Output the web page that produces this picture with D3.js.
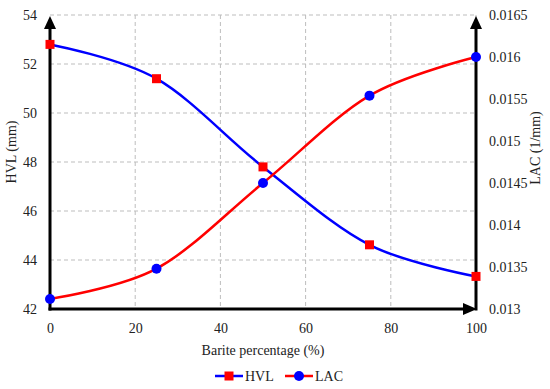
<!DOCTYPE html>
<html>
<head>
<meta charset="utf-8">
<script src="https://cdn.jsdelivr.net/npm/d3@7"></script>
<style>
  body { margin: 0; background: #fff; }
</style>
</head>
<body>
<div id="chart"></div>
<script>
(function(){
  'use strict';

  // data
  var barite = [0, 25, 50, 75, 100];
  var hvl = [52.8, 51.4, 47.8, 44.62, 43.33];
  var lac = [0.01312, 0.01348, 0.0145, 0.01554, 0.0160];

  var xTicks = [0, 20, 40, 60, 80, 100];
  var hvlTicks = [42, 44, 46, 48, 50, 52, 54];
  var lacTicks = [0.013, 0.0135, 0.014, 0.0145, 0.015, 0.0155, 0.016, 0.0165];

  var W = 550, H = 389,
      left = 50, right = 476, top = 15, bottom = 309;

  var svg = d3.select('#chart').append('svg')
    .attr('width', W)
    .attr('height', H);

  var x = d3.scaleLinear().domain([0, 100]).range([left, right]);
  var yL = d3.scaleLinear().domain([42, 54]).range([bottom, top]);
  var yR = d3.scaleLinear().domain([0.013, 0.0165]).range([bottom, top]);

  // grid
  var grid = svg.append('g');
  grid.selectAll('.hg')
    .data(hvlTicks.slice(1))
    .enter().append('line')
    .attr('x1', left).attr('x2', right)
    .attr('y1', function(d){ return yL(d); })
    .attr('y2', function(d){ return yL(d); })
    .style('stroke', '#bdbdbd').style('stroke-width', 1).style('stroke-dasharray', '4,3');
  grid.selectAll('.vg')
    .data(xTicks.slice(1))
    .enter().append('line')
    .attr('x1', function(d){ return x(d); })
    .attr('x2', function(d){ return x(d); })
    .attr('y1', top).attr('y2', bottom)
    .style('stroke', '#bdbdbd').style('stroke-width', 1).style('stroke-dasharray', '4,3');

  // axes (labels only, lines drawn separately with arrows)
  var xAxis = d3.axisBottom(x).tickValues(xTicks).tickSize(0).tickPadding(14);
  var yAxisL = d3.axisLeft(yL).tickValues(hvlTicks).tickSize(0).tickPadding(13);
  var yAxisR = d3.axisRight(yR).tickValues(lacTicks).tickSize(0).tickPadding(13)
    .tickFormat(function(d){ return String(+d.toFixed(5)); });

  [[xAxis, 'translate(0,' + bottom + ')'],
   [yAxisL, 'translate(' + left + ',0)'],
   [yAxisR, 'translate(' + right + ',0)']].forEach(function(a){
    var g = svg.append('g').attr('transform', a[1]).call(a[0]);
    g.select('.domain').remove();
  });

  // axis lines with arrows
  var ax = svg.append('g');
  function axLine(x1, y1, x2, y2) {
    ax.append('line').attr('x1', x1).attr('y1', y1).attr('x2', x2).attr('y2', y2)
      .style('stroke', '#000').style('stroke-width', 3);
  }
  axLine(left, bottom + 1.5, left, top + 12);
  axLine(right, bottom + 1.5, right, top + 12);
  axLine(left - 1.5, bottom, right - 12, bottom);
  ax.append('path').attr('d', 'M' + left + ',' + (top + 1) + 'L' + (left - 6) + ',' + (top + 14) + 'L' + (left + 6) + ',' + (top + 14) + 'Z');
  ax.append('path').attr('d', 'M' + right + ',' + (top + 1) + 'L' + (right - 6) + ',' + (top + 14) + 'L' + (right + 6) + ',' + (top + 14) + 'Z');
  ax.append('path').attr('d', 'M' + (right + 1) + ',' + bottom + 'L' + (right - 13) + ',' + (bottom - 6) + 'L' + (right - 13) + ',' + (bottom + 6) + 'Z');

  // series
  var hvlData = barite.map(function(d, i){ return {x: d, y: hvl[i]}; });
  var lacData = barite.map(function(d, i){ return {x: d, y: lac[i]}; });

  var hvlLine = d3.line().curve(d3.curveCardinal.tension(0))
    .x(function(d){ return x(d.x); })
    .y(function(d){ return yL(d.y); });
  var lacLine = d3.line().curve(d3.curveCardinal.tension(0))
    .x(function(d){ return x(d.x); })
    .y(function(d){ return yR(d.y); });

  svg.append('path').datum(hvlData).attr('d', hvlLine)
    .style('fill', 'none').style('stroke', '#0000ff').style('stroke-width', 2.5);
  svg.append('path').datum(lacData).attr('d', lacLine)
    .style('fill', 'none').style('stroke', '#ff0000').style('stroke-width', 2.5);

  svg.selectAll('.hvlpt').data(hvlData).enter().append('rect')
    .attr('x', function(d){ return x(d.x) - 4.5; })
    .attr('y', function(d){ return yL(d.y) - 4.5; })
    .attr('width', 9).attr('height', 9)
    .style('fill', '#ff0000');
  svg.selectAll('.lacpt').data(lacData).enter().append('circle')
    .attr('cx', function(d){ return x(d.x); })
    .attr('cy', function(d){ return yR(d.y); })
    .attr('r', 5)
    .style('fill', '#0000ff');

  // titles
  svg.append('text').attr('x', 263).attr('y', 355)
    .attr('text-anchor', 'middle').text('Barite percentage (%)');
  svg.append('text').attr('transform', 'translate(16,152) rotate(-90)')
    .attr('text-anchor', 'middle').text('HVL (mm)');
  svg.append('text').attr('transform', 'translate(540,148) rotate(-90)')
    .attr('text-anchor', 'middle').text('LAC (1/mm)');

  // legend
  var lg = svg.append('g').attr('transform', 'translate(0,376)');
  lg.append('line').attr('x1', 215).attr('x2', 243).attr('y1', 0).attr('y2', 0)
    .style('stroke', '#0000ff').style('stroke-width', 2.5);
  lg.append('rect').attr('x', 224.5).attr('y', -4.5).attr('width', 9).attr('height', 9).style('fill', '#ff0000');
  lg.append('text').attr('x', 245).attr('y', 5).text('HVL');
  lg.append('line').attr('x1', 285).attr('x2', 313).attr('y1', 0).attr('y2', 0)
    .style('stroke', '#ff0000').style('stroke-width', 2.5);
  lg.append('circle').attr('cx', 299).attr('cy', 0).attr('r', 5).style('fill', '#0000ff');
  lg.append('text').attr('x', 315).attr('y', 5).text('LAC');

  // all text: serif, same size
  svg.selectAll('text')
    .style('font-family', "'Liberation Serif'")
    .style('font-size', '14px')
    .style('fill', '#222');

}());
</script>
</body>
</html>
